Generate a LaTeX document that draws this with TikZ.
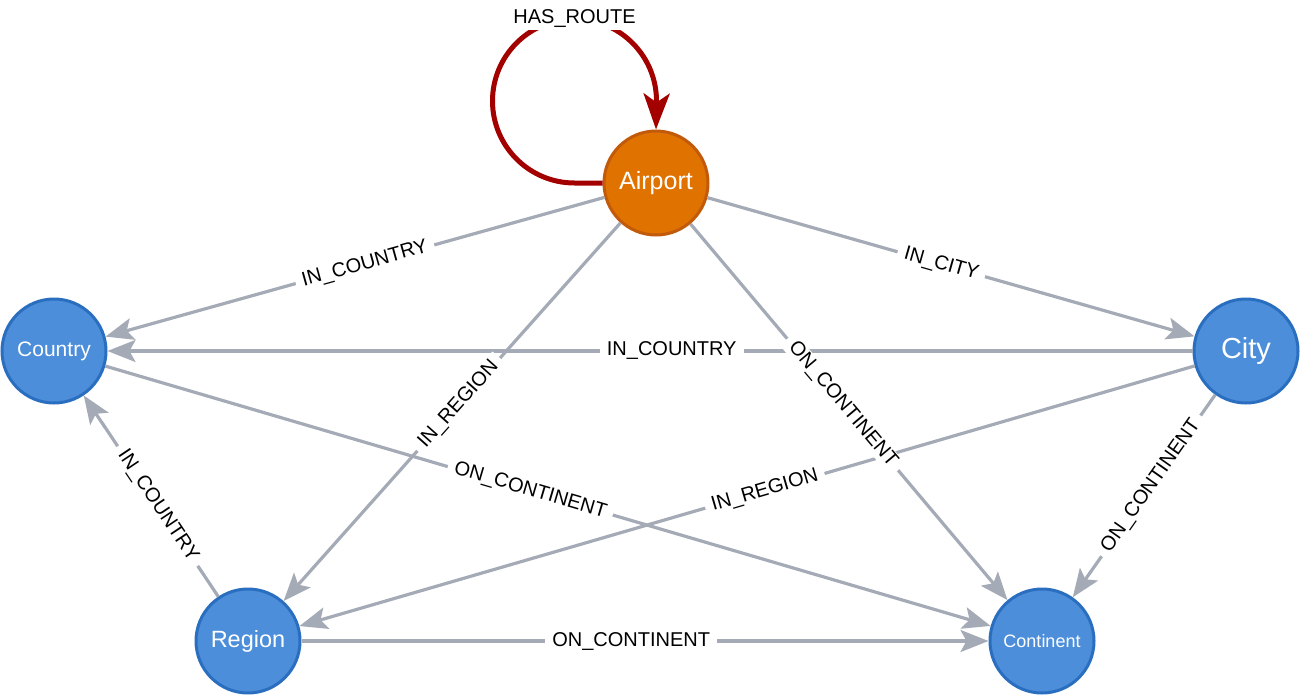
\documentclass[tikz,border=0pt]{standalone}
\usepackage{fontspec}
\setmainfont{Liberation Sans}
\usepackage{tikz}
\usetikzlibrary{positioning,arrows.meta}
\definecolor{nodeblue}{HTML}{4C8EDA}
\definecolor{nodeblueline}{HTML}{2A6EC0}
\definecolor{airportfill}{HTML}{E07200}
\definecolor{airportline}{HTML}{C25A0B}
\definecolor{routered}{HTML}{A30000}
\definecolor{edgegray}{HTML}{A5ABB6}

\begin{document}
\begin{tikzpicture}[x=1pt, y=1pt,
    every node/.style={font=\fontsize{20}{24}\selectfont},
    entity/.style={circle, draw=nodeblueline, fill=nodeblue, line width=3pt, minimum size=104pt, inner sep=0pt, text=white},
    rel/.style={draw=edgegray, line width=3.2pt, -{Stealth[length=28pt, width=22pt, inset=6pt]}},
    rellabel/.style={fill=white, inner xsep=7pt, inner ysep=1pt, sloped, pos=0.48, text=black},
    route/.style={draw=routered, line width=5pt, -{Stealth[length=36pt, width=26pt, inset=9pt]}}]
    \useasboundingbox (0,0) rectangle (1301,-696);

    \node [entity, fill=airportfill, draw=airportline, font=\fontsize{25}{30}\selectfont] (airport) at (656,-183) {Airport};
    \node [entity, font=\fontsize{21}{25}\selectfont] (country) at (54,-351) {Country};
    \node [entity, font=\fontsize{29}{34}\selectfont, right=1085pt of country] (city) {City};
    \node [entity, font=\fontsize{23.5}{28}\selectfont] (region) at (248,-641) {Region};
    \node [entity, font=\fontsize{18}{22}\selectfont, right=687pt of region] (continent) {Continent};

    % self loop
    \draw[route] (airport.west) -- ++(-28,0) arc[start angle=270, end angle=90, radius=82]
        node[fill=white, inner sep=2pt] {HAS\_ROUTE}
        arc[start angle=90, end angle=0, radius=82] -- (airport.north);

    \draw[rel] (airport) -- node[rellabel] {IN\_COUNTRY} (country);
    \draw[rel] (airport) -- node[rellabel] {IN\_CITY} (city);
    \draw[rel] (city) -- node[rellabel] {IN\_COUNTRY} (country);
    \draw[rel] (city) -- node[rellabel] {IN\_REGION} (region);
    \draw[rel] (city) -- node[rellabel, pos=0.45] {ON\_CONTINENT} (continent);
    \draw[rel] (country) -- node[rellabel] {ON\_CONTINENT} (continent);
    \draw[rel] (region) -- node[rellabel, pos=0.45] {IN\_COUNTRY} (country);
    \draw[rel] (region) -- node[rellabel] {ON\_CONTINENT} (continent);
    % these labels sit over other lines
    \draw[rel] (airport) -- node[rellabel] {IN\_REGION} (region);
    \draw[rel] (airport) -- node[rellabel] {ON\_CONTINENT} (continent);

\end{tikzpicture}
\end{document}
